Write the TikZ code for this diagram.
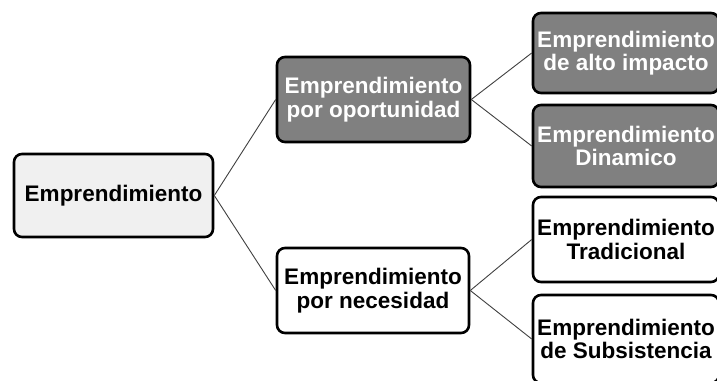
\documentclass[tikz,border=0pt]{standalone}
\usepackage{fontspec}
\setmainfont{Liberation Sans}
\begin{document}
\begin{tikzpicture}[x=1pt,y=-1pt,
  box/.style={draw=black, line width=2.6pt, rounded corners=8pt, align=center,
    inner sep=0pt, font=\bfseries\fontsize{22.5}{23.5}\selectfont},
  lightbox/.style={box, fill=gray!12, text=black},
  darkbox/.style={box, fill=black!50, text=white},
  whitebox/.style={box, fill=white, text=black},
  conn/.style={draw=black!75, line width=0.9pt}]
\useasboundingbox (0,0) rectangle (717,380);
\clip (0,0) rectangle (717,380);
\node[lightbox, minimum width=199pt, minimum height=83pt] (root) at (113.5,195.5) {Emprendimiento};
\node[darkbox, minimum width=193pt, minimum height=85pt] (opp) at (373.5,99.5) {Emprendimiento\\por oportunidad};
\node[whitebox, minimum width=192pt, minimum height=85pt] (nec) at (373,290.5) {Emprendimiento\\por necesidad};
\node[darkbox, minimum width=186pt, minimum height=80pt] (r1) at (626,53) {Emprendimiento\\de alto impacto};
\node[darkbox, minimum width=186pt, minimum height=82pt] (r2) at (626,146) {Emprendimiento\\Dinamico};
\node[whitebox, minimum width=186pt, minimum height=85pt] (r3) at (626,239.5) {Emprendimiento\\Tradicional};
\node[whitebox, minimum width=186pt, minimum height=88pt] (r4) at (626,339) {Emprendimiento\\de Subsistencia};
\draw[conn] (root.east) -- (opp.west);
\draw[conn] (root.east) -- (nec.west);
\draw[conn] (opp.east) -- (r1.west);
\draw[conn] (opp.east) -- (r2.west);
\draw[conn] (nec.east) -- (r3.west);
\draw[conn] (nec.east) -- (r4.west);
\end{tikzpicture}
\end{document}
